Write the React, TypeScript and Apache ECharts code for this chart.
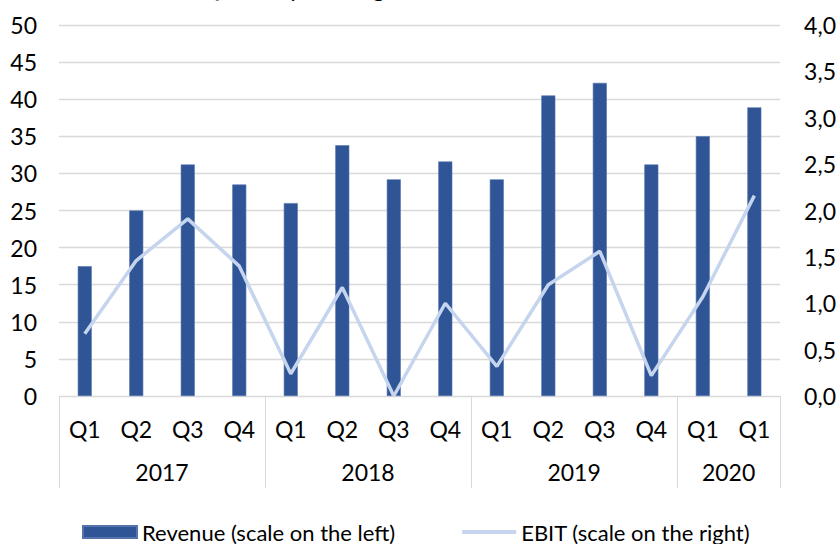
import React, { useEffect, useRef } from "react";
import * as echarts from "echarts";

const quarters = ["Q1", "Q2", "Q3", "Q4", "Q1", "Q2", "Q3", "Q4", "Q1", "Q2", "Q3", "Q4", "Q1", "Q1"];
const years = ["2017", "2018", "2019", "2020"];
const yearCenters = [2, 6, 10, 13];
const yearBounds = [0, 4, 8, 12, 14];
const revenue = [17.5, 25.0, 31.2, 28.5, 26.0, 33.8, 29.2, 31.6, 29.2, 40.5, 42.2, 31.2, 35.0, 38.9];
const ebit = [0.67, 1.46, 1.91, 1.40, 0.24, 1.17, 0.0, 1.0, 0.32, 1.2, 1.56, 0.22, 1.07, 2.16];
const seriesNames = ["Revenue (scale on the left)", "EBIT (scale on the right)"];
const title = "Quarterly earnings";

const FONT = "Lato";
const TXT = "#000000";
const GRID = "#D9D9D9";
const LINE = "#C5D5EE";

export default function App() {
  const ref = useRef<HTMLDivElement>(null);
  useEffect(() => {
    if (!ref.current) return;
    const chart = echarts.init(ref.current, null, { renderer: "svg" });
    chart.setOption({
      animation: false,
      textStyle: { fontFamily: FONT },
      graphic: [
        {
          type: "text",
          left: 200,
          top: -25,
          style: { text: title, font: `24px ${FONT}`, fill: TXT },
        },
      ],
      grid: { left: 59, right: 55, top: 25, bottom: 148, containLabel: false },
      legend: {
        left: 77,
        top: 516,
        itemWidth: 54,
        itemHeight: 12,
        itemGap: 65,
        textStyle: { fontFamily: FONT, fontSize: 22, color: TXT },
        data: [
          { name: seriesNames[0], icon: "rect" },
          { name: seriesNames[1], itemStyle: { opacity: 0 }, lineStyle: { color: LINE, width: 4 } },
        ],
      },
      xAxis: [
        {
          type: "category",
          data: quarters,
          boundaryGap: true,
          axisLine: { show: true, lineStyle: { color: GRID, width: 1 } },
          axisTick: { show: false },
          axisLabel: { color: TXT, fontSize: 23, fontFamily: FONT, margin: 21, interval: 0 },
          splitLine: { show: false },
        },
        {
          type: "value",
          min: 0,
          max: 14,
          position: "bottom",
          axisLine: { show: false },
          axisTick: {
            show: true,
            customValues: yearBounds,
            length: 92,
            lineStyle: { color: GRID, width: 1 },
          },
          axisLabel: {
            show: true,
            customValues: yearCenters,
            formatter: (v: number) => years[yearCenters.indexOf(v)] ?? "",
            color: TXT,
            fontSize: 23,
            fontFamily: FONT,
            margin: 64,
          },
          splitLine: { show: false },
        },
      ],
      yAxis: [
        {
          type: "value",
          min: 0,
          max: 50,
          interval: 5,
          axisLine: { show: false },
          axisTick: { show: false },
          axisLabel: { color: TXT, fontSize: 23, fontFamily: FONT, margin: 22 },
          splitLine: { show: true, lineStyle: { color: GRID, width: 1.3 } },
        },
        {
          type: "value",
          min: 0,
          max: 4,
          interval: 0.5,
          position: "right",
          axisLine: { show: false },
          axisTick: { show: false },
          axisLabel: {
            color: TXT,
            fontSize: 23,
            fontFamily: FONT,
            margin: 24,
            formatter: (v: number) => v.toFixed(1).replace(".", ","),
          },
          splitLine: { show: false },
        },
      ],
      series: [
        {
          name: seriesNames[0],
          type: "bar",
          xAxisIndex: 0,
          yAxisIndex: 0,
          data: revenue,
          barWidth: 14,
          itemStyle: { color: "#2F5597", borderColor: "#5574AD", borderWidth: 0.6 },
        },
        {
          name: seriesNames[1],
          type: "line",
          xAxisIndex: 0,
          yAxisIndex: 1,
          data: ebit,
          symbol: "none",
          showSymbol: false,
          lineStyle: { color: LINE, width: 3.5 },
          itemStyle: { color: LINE },
        },
      ],
    });
    return () => chart.dispose();
  }, []);
  return (
    <div
      ref={ref}
      style={{ position: "absolute", left: 0, top: 0, width: 839, height: 544, background: "#fff" }}
    />
  );
}
